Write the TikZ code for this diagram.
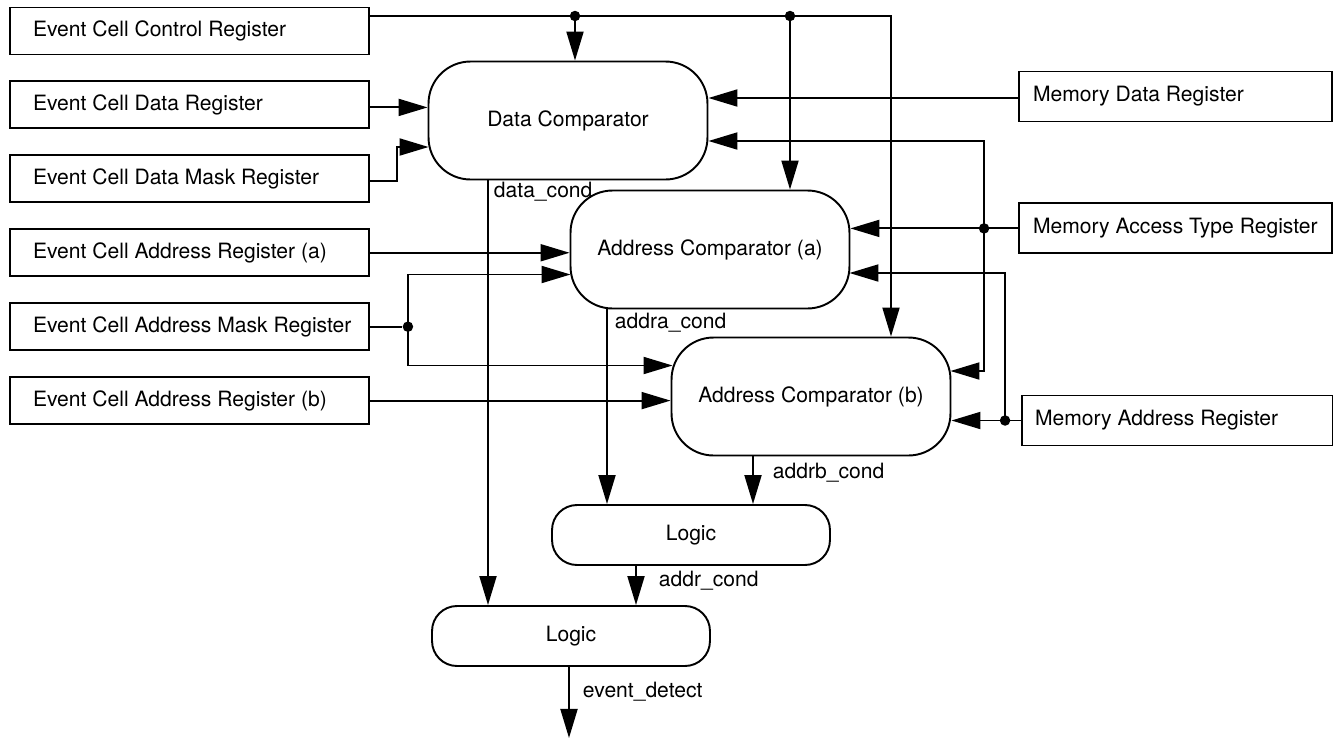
\documentclass[tikz,border=0pt]{standalone}
\usepackage{fontspec}
\setmainfont{TeX Gyre Heros}
\usetikzlibrary{arrows.meta,positioning,calc}

% register texts sit flush left in a fixed width, never broken
\newcommand{\ltext}[1]{\makebox[6.26cm][l]{#1}}
\newcommand{\rtext}[1]{\makebox[5.7cm][l]{#1}}

\begin{document}
\begin{tikzpicture}[
  x=0.02cm, y=-0.02cm,
  font=\fontsize{12}{14}\selectfont,
  line width=1.1pt,
  reg/.style={draw, inner ysep=0pt},
  lreg/.style={reg, minimum height=0.94cm, inner xsep=0.46cm},
  rreg/.style={reg, minimum height=1.0cm, inner xsep=0.26cm},
  comp/.style={draw, rounded corners=0.84cm, minimum width=5.58cm, minimum height=2.36cm},
  logic/.style={draw, rounded corners=0.5cm, minimum width=5.56cm, minimum height=1.2cm},
  arr/.style={-{Triangle[length=0.58cm, width=0.34cm]}},
  dot/.style={circle, fill, inner sep=0pt, minimum size=0.21cm},
  lbl/.style={inner sep=0pt, anchor=base west},
]
\useasboundingbox (0,0) rectangle (1333,738);

%% ---------- event cell registers (left) ----------
\node[lreg] (ctrl) at (189.5,31) {\ltext{Event Cell Control Register}};
\node[lreg, below=0.5cm of ctrl] (edata) {\ltext{Event Cell Data Register}};
\node[lreg, below=0.5cm of edata] (emask) {\ltext{Event Cell Data Mask Register}};
\node[lreg, below=0.5cm of emask] (eaddra) {\ltext{Event Cell Address Register (a)}};
\node[lreg, below=0.5cm of eaddra] (eamask) {\ltext{Event Cell Address Mask Register}};
\node[lreg, below=0.5cm of eamask] (eaddrb) {\ltext{Event Cell Address Register (b)}};

%% ---------- memory registers (right) ----------
\node[rreg, minimum width=6.26cm] (mdata) at (1175.5,96.5) {\rtext{Memory Data Register}};
\node[rreg, minimum width=6.26cm, below=1.6cm of mdata] (matype) {\rtext{Memory Access Type Register}};
\node[rreg, minimum width=6.18cm] (maddr) at (1177.5,420.5) {\rtext{Memory Address Register}};

%% ---------- comparators and logic ----------
\node[comp] (dcomp) at (568,120.5) {Data Comparator};
\node[comp] (acompa) at (710,249.5) {Address Comparator (a)};
\node[comp] (acompb) at (811,396.5) {Address Comparator (b)};
\node[logic] (logica) at (691,535) {Logic};
\node[logic] (logicb) at (571,636) {Logic};

%% ---------- control bus ----------
\coordinate (busend) at (891,16);
\draw[arr] (ctrl.east |- busend) -| (busend |- acompb.north);
\node[dot] (j1) at (575,16) {};
\node[dot] (j2) at (790,16) {};
\draw[arr] (j1.center) -- (j1 |- dcomp.north);
\draw[arr] (j2.center) -- (j2 |- acompa.north);

%% ---------- left inputs ----------
\draw[arr] ([yshift=-0.05cm]edata.east) -- ([yshift=-0.05cm]edata.east -| dcomp.west);
\draw[arr] ([yshift=-0.05cm]emask.east) -- ++(27,0) |- ($(dcomp.west)+(1,26.5)$);
\draw[arr] (eaddra.east) -- (eaddra.east -| acompa.west);
\node[dot] (amdot) at ($(eamask.east)+(38,0)$) {};
\draw (eamask.east) -- (amdot);
\draw[arr] (amdot.center) |- ($(acompa.west)+(1,25)$);
\draw[arr] (amdot.center) |- ($(acompb.west)+(2,-31)$);
\draw[arr] (eaddrb.east) -- (eaddrb.east -| acompb.west);

%% ---------- right inputs ----------
\draw[arr] ([yshift=-0.03cm]mdata.west) -- ([yshift=-0.03cm]mdata.west -| dcomp.east);
\node[dot] (atdot) at ($(matype.west)+(-34,0)$) {};
\draw[arr] (matype.west) -- (matype.west -| acompa.east);
\draw[arr] (atdot.center) |- ($(dcomp.east)+(0,20.5)$);
\draw[arr] (atdot.center) |- ($(acompb.east)+(-1,-25.5)$);
\node[dot] (addot) at ($(maddr.west)+(-16,0)$) {};
\draw[arr] (maddr.west) -- (maddr.west -| acompb.east);
\draw[arr] (addot.center) |- ($(acompa.east)+(-1,23.5)$);

%% ---------- condition outputs ----------
\coordinate (dcond) at ($(dcomp.south)+(-80,0)$);
\draw[arr] (dcond) -- (dcond |- logicb.north);
\node[lbl] (dclbl) at ($(dcond)+(5,17.5)$) {data\_cond};

\coordinate (acond) at ($(acompa.south)+(-103,0)$);
\draw[arr] (acond) -- (acond |- logica.north);
\node[lbl] (aclbl) at ($(acond)+(7,19)$) {addra\_cond};

\coordinate (bcond) at ($(acompb.south)+(-58,0)$);
\draw[arr] (bcond) -- (bcond |- logica.north);
\node[lbl] (bclbl) at ($(bcond)+(19,22)$) {addrb\_cond};

\coordinate (lcond) at ($(logica.south)+(-55,0)$);
\draw[arr] (lcond) -- (lcond |- logicb.north);
\node[lbl] (lclbl) at ($(lcond)+(22,21)$) {addr\_cond};

\coordinate (evout) at ($(logicb.south)+(-2,71)$);
\draw[arr] ($(logicb.south)+(-2,0)$) -- (evout);
\node[lbl] (evlbl) at ($(logicb.south)+(11,31)$) {event\_detect};

\end{tikzpicture}
\end{document}
